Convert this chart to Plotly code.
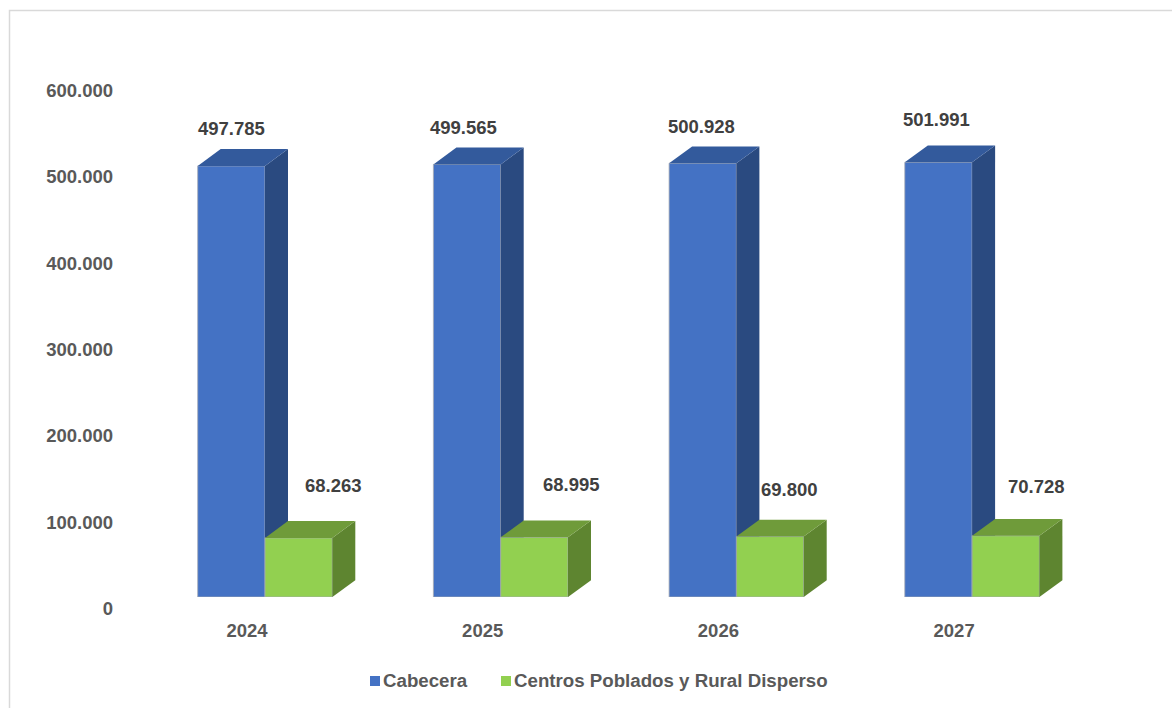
import plotly.graph_objects as go

years = ["2024", "2025", "2026", "2027"]
cabecera = [497785, 499565, 500928, 501991]
centros = [68263, 68995, 69800, 70728]
y_ticks = [0, 100000, 200000, 300000, 400000, 500000, 600000]
y_tick_labels = ["0", "100.000", "200.000", "300.000", "400.000", "500.000", "600.000"]
label_cab_dx = [0, -4, -1, -2]
label_cab_dy = [37, 37, 37, 43]
label_cen_dy = [52, 53, 47, 49]
label_cen_dx = [35, 37, 19, 31]

W, H = 1172, 708
X0, SPACING = 265.0, 235.7       # pixel of first category, pixels per category
BASE, PX_PER_UNIT = 597.0, 0.000866
BAR = 67.3 / SPACING
DX = 23.0 / SPACING
DY = 16.8 / PX_PER_UNIT
FONT = "Liberation Sans, Arial, sans-serif"
xs = list(range(len(years)))

x_range = [-X0 / SPACING, (W - X0) / SPACING]
y_top = BASE / PX_PER_UNIT
y_range = [0, y_top]
y_domain = [(H - BASE) / H, 1]


def poly(fig, px, py, color, xa, ya):
    fig.add_trace(go.Scatter(x=px, y=py, mode="lines", fill="toself", fillcolor=color,
                             line=dict(width=0), hoverinfo="skip", showlegend=False,
                             xaxis=xa, yaxis=ya))


def faces(fig, left, value, top_c, side_c, xa, ya):
    right = left + BAR
    poly(fig, [right, right + DX, right + DX, right, right], [0, DY, value + DY, value, 0], side_c, xa, ya)
    poly(fig, [left, left + DX, right + DX, right, left], [value, value + DY, value + DY, value, value], top_c, xa, ya)


fig = go.Figure()
edge = dict(color="rgba(165,170,180,0.8)", width=1)

fig.add_trace(go.Bar(x=[i - BAR / 2 for i in xs], y=cabecera, width=BAR, name="Cabecera",
                     marker=dict(color="#4472C4", line=edge), showlegend=False, xaxis="x", yaxis="y"))
for i, v in zip(xs, cabecera):
    faces(fig, i - BAR, v, "#335A9C", "#2A4A80", "x", "y")

fig.add_trace(go.Bar(x=[i + BAR / 2 for i in xs], y=centros, width=BAR, name="Centros Poblados y Rural Disperso",
                     marker=dict(color="#92D050", line=edge), showlegend=False, xaxis="x2", yaxis="y2"))
for i, v in zip(xs, centros):
    faces(fig, i, v, "#6F9B3A", "#5E8530", "x2", "y2")

# carries the shifted value axis
fig.add_trace(go.Scatter(x=[0, 0], y=[y_ticks[0], y_ticks[-1]], mode="markers", marker=dict(opacity=0),
                         hoverinfo="skip", showlegend=False, xaxis="x", yaxis="y3"))

annotations = []
for i, v, dx, dy in zip(xs, cabecera, label_cab_dx, label_cab_dy):
    annotations.append(dict(x=i - BAR / 2, y=v, xref="x", yref="y", text=f"{v:,}".replace(",", "."),
                            showarrow=False, xshift=dx, yshift=dy, yanchor="middle",
                            font=dict(family=FONT, size=18.5, color="#404040", weight="bold")))
for i, v, dx, dy in zip(xs, centros, label_cen_dx, label_cen_dy):
    annotations.append(dict(x=i + BAR / 2, y=v, xref="x", yref="y", text=f"{v:,}".replace(",", "."),
                            showarrow=False, xshift=dx, yshift=dy, yanchor="middle",
                            font=dict(family=FONT, size=18.5, color="#404040", weight="bold")))

legend_items = [("Cabecera", "#4472C4", 370, 383), ("Centros Poblados y Rural Disperso", "#92D050", 501, 514)]
shapes = [dict(type="rect", xref="paper", yref="paper", x0=9.5 / W, x1=1.2, y0=-0.2, y1=(H - 10.5) / H,
               line=dict(color="#D9D9D9", width=1.5), fillcolor="rgba(0,0,0,0)", layer="below")]
for name, color, sx, tx in legend_items:
    shapes.append(dict(type="rect", xref="paper", yref="paper", x0=sx / W, x1=(sx + 10) / W,
                       y0=(H - 686) / H, y1=(H - 676) / H, fillcolor=color, line=dict(width=0)))
    annotations.append(dict(x=tx / W, y=(H - 680.5) / H, xref="paper", yref="paper", text=name, showarrow=False,
                            xanchor="left", yanchor="middle", xshift=-2,
                            font=dict(family=FONT, size=18.7, color="#595959", weight="bold")))

tick_font = dict(family=FONT, size=18.5, color="#595959", weight="bold")
hidden = dict(visible=False, showgrid=False, zeroline=False)
fig.update_layout(
    width=W, height=H, margin=dict(l=0, r=0, t=0, b=0, autoexpand=False),
    paper_bgcolor="white", plot_bgcolor="rgba(0,0,0,0)",
    barmode="overlay", showlegend=False,
    shapes=shapes, annotations=annotations,
    xaxis=dict(range=x_range, domain=[0, 1], tickmode="array",
               tickvals=[i - 18 / SPACING for i in xs], ticktext=years,
               tickfont=tick_font, showgrid=False, zeroline=False, showline=False,
               ticks="", ticklabelstandoff=20, anchor="y"),
    yaxis=dict(range=y_range, domain=y_domain, **hidden),
    xaxis2=dict(range=x_range, overlaying="x", **hidden),
    yaxis2=dict(range=y_range, overlaying="y", **hidden),
    yaxis3=dict(range=[0, 600000], domain=[(H - 608.5) / H, (H - 90.5) / H], anchor="free", position=113 / W,
                tickmode="array", tickvals=y_ticks, ticktext=y_tick_labels, tickfont=tick_font,
                showgrid=False, zeroline=False, showline=False, ticks=""),
)
fig.write_html("out.html", config=dict(displayModeBar=False),
               post_script="document.body.style.margin='0';document.body.style.overflow='hidden';")
